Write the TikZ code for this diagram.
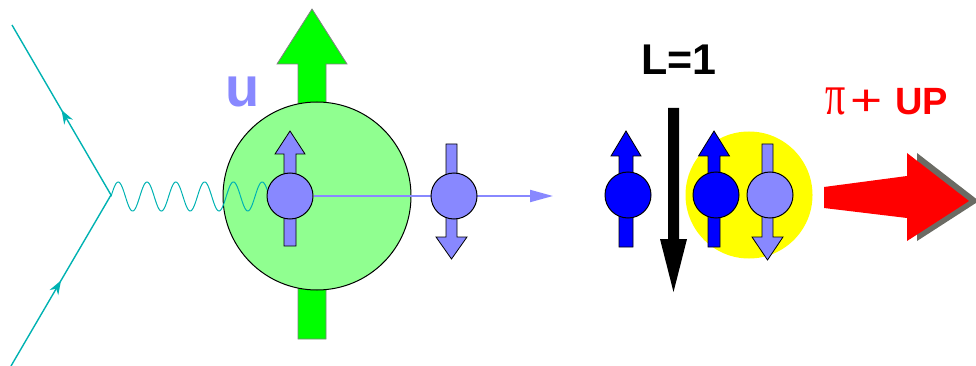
\documentclass[tikz,border=0pt]{standalone}
\usepackage{fontspec}
\setmainfont{Liberation Sans}
\newfontfamily\serifpi{Liberation Serif}
\usetikzlibrary{arrows.meta,decorations.markings}
\definecolor{lav}{RGB}{136,136,255}
\definecolor{gArrow}{RGB}{0,255,0}
\definecolor{gBall}{RGB}{144,255,144}
\definecolor{qBlue}{RGB}{0,0,255}
\definecolor{qYellow}{RGB}{255,255,0}
\definecolor{pRed}{RGB}{255,0,0}
\definecolor{teal2}{RGB}{0,178,178}
\definecolor{shad}{RGB}{107,107,100}
\newcommand{\vspin}[7][]{\path[#1] (#2-#6,#3) -- (#2-#6,#4) -- (#2-#7,#4) -- (#2,#5) -- (#2+#7,#4) -- (#2+#6,#4) -- (#2+#6,#3) -- cycle;}
\tikzset{
  quarkL/.style={circle,draw=black,line width=1pt,fill=lav,minimum size=46pt,inner sep=0pt},
  quarkB/.style={circle,draw=black,line width=1pt,fill=qBlue,minimum size=46pt,inner sep=0pt},
  lavarrow/.style={fill=lav,draw=black,line width=0.8pt},
  bluearrow/.style={fill=qBlue,draw=black,line width=0.8pt},
  bigarrow/.style={fill=gArrow,draw=gray,line width=0.8pt},
  fermion/.style={draw=teal2,line width=1.4pt,postaction={decorate},
    decoration={markings,mark=at position #1 with {\arrow{Stealth[length=14pt,width=10pt]}}}},
  lbl/.style={inner sep=0pt,anchor=base west}
}
\begin{document}
\begin{tikzpicture}[x=1pt,y=-1pt]
\useasboundingbox (0,0) rectangle (976,366);
% fermion lines
\coordinate (v) at (111,195);
\coordinate (ul) at (12,25);
\coordinate (ll) at (11,366);
\draw[fermion=0.5] (v) -- (ul);
\draw[fermion=0.5] (ll) -- (v);
% big green spin arrow and ball
\vspin[bigarrow]{312}{339}{64}{9}{14}{35}
\node[circle,draw=black,line width=1pt,fill=gBall,minimum size=188pt,inner sep=0pt] (ball) at (317,196) {};
% photon
\draw[teal2,line width=1pt] plot[domain=111:275,samples=300,smooth] (\x,{196.5-14.5*sin(12.5*(\x-111))});
% quark line
\vspin[lavarrow]{290}{246}{154}{131}{6}{15}
\coordinate (qend) at (553,196);
\node[quarkL] (q1) at (290,196) {};
\draw[lav,line width=2pt,-{Triangle[length=23pt,width=12pt]}] (q1.east) -- (qend);
\vspin[lavarrow]{451.5}{144}{237}{259}{5.5}{15.5}
\node[quarkL] (q2) at (454,196) {};
\node[lbl,text=lav,font=\bfseries\fontsize{56}{60}\selectfont] (u) at (225.5,107) {u};
% right part
\node[lbl,font=\bfseries\fontsize{43}{50}\selectfont] (L) at (641,75) {L=1};
\vspin[fill=black]{673.5}{108}{239}{292}{5.5}{13.5}
\vspin[bluearrow]{626}{247}{156}{131}{7}{15}
\node[quarkB] (b1) at (628,195) {};
\node[circle,fill=qYellow,minimum size=127pt,inner sep=0pt] (pion) at (749,195) {};
\vspin[bluearrow]{714}{247}{156}{131}{6}{15.5}
\node[quarkB] (b2) at (716,195) {};
\vspin[lavarrow]{767.5}{144}{237}{260}{5.5}{15.5}
\node[quarkL] (b3) at (770,195) {};
% red arrow with shadow
\fill[shad,shift={(10,0)}] (824,187) -- (907,176) -- (907,153) -- (969,201) -- (907,241) -- (907,218) -- (824,208) -- cycle;
\fill[pRed] (824,187) -- (907,176) -- (907,153) -- (969,201) -- (907,241) -- (907,218) -- (824,208) -- cycle;
\node[lbl,text=pRed] (pi) at (825,115) {\serifpi\fontsize{40}{44}\selectfont\scalebox{1}[1.45]{π}};
\node[inner sep=0pt,text=pRed,font=\fontsize{44}{48}\selectfont] (plus) at (866.5,102.5) {\scalebox{1.25}[1]{+}};
\node[lbl,text=pRed,font=\bfseries\fontsize{38}{42}\selectfont] (up) at (895,115) {UP};
\end{tikzpicture}
\end{document}
